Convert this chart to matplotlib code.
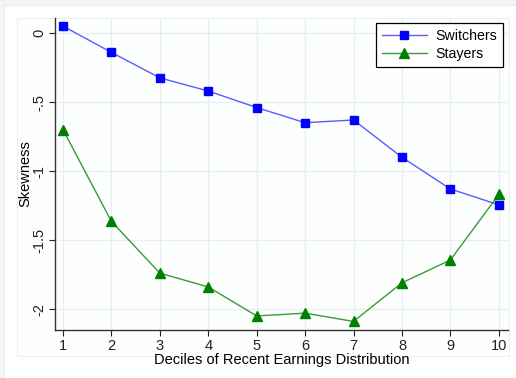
import matplotlib.pyplot as plt
from matplotlib.patches import Rectangle

deciles = [1, 2, 3, 4, 5, 6, 7, 8, 9, 10]
switchers = [0.05, -0.14, -0.325, -0.42, -0.54, -0.65, -0.63, -0.90, -1.13, -1.245]
stayers = [-0.70, -1.365, -1.74, -1.84, -2.05, -2.03, -2.09, -1.81, -1.645, -1.17]
y_ticks = [0, -0.5, -1, -1.5, -2]
y_labels = ["0", "-.5", "-1", "-1.5", "-2"]

plt.rcParams["font.family"] = ["Liberation Sans", "DejaVu Sans"]


def create_graphic():
    fig = plt.figure(figsize=(5.16, 3.78), dpi=100)
    fig.patch.set_facecolor("#f4f4f4")

    # white page and inner plot region, drawn in figure pixels
    W, H = 516, 378
    fig.add_artist(Rectangle((4 / W, 0), 1, 1 - 5 / H, transform=fig.transFigure,
                             facecolor="white", edgecolor="#e4eef2", lw=0.8, zorder=-2))
    fig.add_artist(Rectangle((17 / W, 1 - 356 / H), 492 / W, 338 / H,
                             transform=fig.transFigure, facecolor="#fdfefe",
                             edgecolor="#eaf1f3", lw=0.8, zorder=-1))

    ax = fig.add_axes([55 / W, 1 - 330 / H, 453 / W, 312 / H])
    ax.set_facecolor("none")
    ax.set_zorder(1)

    ax.plot(deciles, switchers, color="#5a5aff", lw=1.0, marker="s", markersize=6,
            markerfacecolor="#0000ff", markeredgecolor="#0000ff", label="Switchers")
    ax.plot(deciles, stayers, color="#3a9a3a", lw=1.0, marker="^", markersize=6.5,
            markerfacecolor="#008000", markeredgecolor="#008000", label="Stayers")

    ax.set_xlim(0.835, 10.19)
    ax.set_ylim(-2.152, 0.109)
    ax.set_xticks(deciles)
    ax.set_yticks(y_ticks)
    ax.set_yticklabels(y_labels, rotation=90, va="center")
    ax.grid(True, color="#e6eff1", lw=0.9)
    ax.set_axisbelow(True)

    for side in ["top", "right"]:
        ax.spines[side].set_visible(False)
    for side in ["left", "bottom"]:
        ax.spines[side].set_color("#333333")
        ax.spines[side].set_linewidth(1.0)
    ax.tick_params(colors="#222222", labelsize=10.5, length=4, width=0.8, pad=2.5)

    ax.set_xlabel("Deciles of Recent Earnings Distribution", fontsize=10.5, labelpad=0)
    ax.set_ylabel("Skewness", fontsize=10.5, labelpad=0)

    leg = ax.legend(loc="upper right", bbox_to_anchor=(0.989, 0.984), fontsize=10.2,
                    fancybox=False, framealpha=1, edgecolor="black", borderaxespad=0,
                    handlelength=3.2, handletextpad=0.6, borderpad=0.4,
                    labelspacing=0.3)
    leg.get_frame().set_linewidth(0.9)

    fig.savefig("out.png", dpi=100, facecolor=fig.get_facecolor())


def main():
    create_graphic()


if __name__ == "__main__":
    main()
